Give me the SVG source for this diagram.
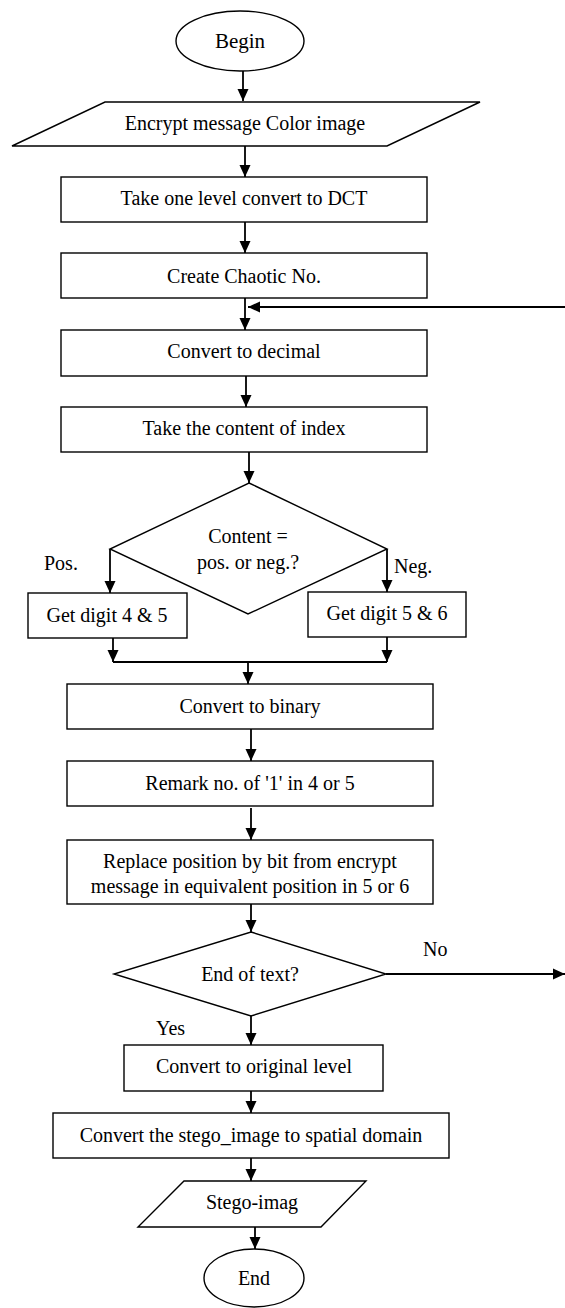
<svg xmlns="http://www.w3.org/2000/svg" width="565" height="1308" viewBox="0 0 565 1308">
<style>
.n{fill:#fff;stroke:#000;stroke-width:1.4}
.t{font-family:"Liberation Serif","Times New Roman",serif;font-size:20px;fill:#000;text-anchor:middle}
.l{font-family:"Liberation Serif","Times New Roman",serif;font-size:20px;fill:#000}
.c{fill:none;stroke:#000;stroke-width:1.8}
</style>
<defs>
<marker id="ah" markerUnits="userSpaceOnUse" markerWidth="12" markerHeight="12" viewBox="0 0 12 12" refX="12" refY="6" orient="auto">
<path d="M0,0.5 L12,6 L0,11.5 z" fill="#000"/>
</marker>
</defs>
<rect width="565" height="1308" fill="#fff"/>
<g id="connectors">
<line class="c" x1="243" y1="71" x2="243" y2="101" marker-end="url(#ah)"/>
<line class="c" x1="245" y1="146" x2="245" y2="177" marker-end="url(#ah)"/>
<line class="c" x1="245" y1="222" x2="245" y2="253" marker-end="url(#ah)"/>
<line class="c" x1="245" y1="298" x2="245" y2="330" marker-end="url(#ah)"/>
<line class="c" x1="565" y1="307" x2="248" y2="307" marker-end="url(#ah)"/>
<line class="c" x1="246" y1="376" x2="246" y2="407" marker-end="url(#ah)"/>
<line class="c" x1="249" y1="452" x2="249" y2="483" marker-end="url(#ah)"/>
<line class="c" x1="110" y1="549" x2="110" y2="593" marker-end="url(#ah)"/>
<line class="c" x1="387" y1="549" x2="387" y2="592" marker-end="url(#ah)"/>
<line class="c" x1="113" y1="638" x2="113" y2="662" marker-end="url(#ah)"/>
<line class="c" x1="387" y1="637" x2="387" y2="662" marker-end="url(#ah)"/>
<line class="c" x1="113" y1="662" x2="387" y2="662"/>
<line class="c" x1="248" y1="662" x2="248" y2="684" marker-end="url(#ah)"/>
<line class="c" x1="251" y1="729" x2="251" y2="761" marker-end="url(#ah)"/>
<line class="c" x1="251" y1="808" x2="251" y2="840" marker-end="url(#ah)"/>
<line class="c" x1="251" y1="904" x2="251" y2="932" marker-end="url(#ah)"/>
<line class="c" x1="386" y1="974" x2="565" y2="974" marker-end="url(#ah)"/>
<line class="c" x1="251" y1="1016" x2="251" y2="1045" marker-end="url(#ah)"/>
<line class="c" x1="251" y1="1091" x2="251" y2="1113" marker-end="url(#ah)"/>
<line class="c" x1="251" y1="1158" x2="251" y2="1181" marker-end="url(#ah)"/>
<line class="c" x1="255" y1="1227" x2="255" y2="1249" marker-end="url(#ah)"/>
<text class="l" x="44" y="570">Pos.</text>
<text class="l" x="394" y="573">Neg.</text>
<text class="l" x="423" y="956">No</text>
<text class="l" x="156" y="1035">Yes</text>
</g>
<g id="begin">
<ellipse class="n" cx="240" cy="41" rx="64" ry="30"/>
<text class="t" x="240" y="48" style="font-size:21px">Begin</text>
</g>
<g id="input">
<polygon class="n" points="105,102 480,102 387,146 12,146"/>
<text class="t" x="245" y="130">Encrypt message Color image</text>
</g>
<g id="dct">
<rect class="n" x="61" y="177" width="366" height="45"/>
<text class="t" x="244" y="205">Take one level convert to DCT</text>
</g>
<g id="chaotic">
<rect class="n" x="61" y="253" width="366" height="45"/>
<text class="t" x="244" y="283">Create Chaotic No.</text>
</g>
<g id="decimal">
<rect class="n" x="61" y="330" width="366" height="46"/>
<text class="t" x="244" y="358">Convert to decimal</text>
</g>
<g id="index">
<rect class="n" x="61" y="407" width="366" height="45"/>
<text class="t" x="244" y="435">Take the content of index</text>
</g>
<g id="decision1">
<polygon class="n" points="249,483 387,549 248,614 110,549"/>
<text class="t" x="248" y="543">Content =</text>
<text class="t" x="248" y="569">pos. or neg.?</text>
</g>
<g id="digit45">
<rect class="n" x="28" y="593" width="159" height="45"/>
<text class="t" x="107" y="622">Get digit 4 &amp; 5</text>
</g>
<g id="digit56">
<rect class="n" x="308" y="592" width="158" height="45"/>
<text class="t" x="387" y="620">Get digit 5 &amp; 6</text>
</g>
<g id="binary">
<rect class="n" x="67" y="684" width="366" height="45"/>
<text class="t" x="250" y="713">Convert to binary</text>
</g>
<g id="remark">
<rect class="n" x="67" y="761" width="366" height="45"/>
<text class="t" x="250" y="790">Remark no. of '1' in 4 or 5</text>
</g>
<g id="replace">
<rect class="n" x="67" y="840" width="366" height="64"/>
<text class="t" x="250" y="868">Replace position by bit from encrypt</text>
<text class="t" x="250" y="893">message in equivalent position in 5 or 6</text>
</g>
<g id="decision2">
<polygon class="n" points="251,932 386,974 251,1016 114,974"/>
<text class="t" x="250" y="981">End of text?</text>
</g>
<g id="original">
<rect class="n" x="124" y="1045" width="259" height="46"/>
<text class="t" x="254" y="1073">Convert to original level</text>
</g>
<g id="spatial">
<rect class="n" x="53" y="1113" width="396" height="45"/>
<text class="t" x="251" y="1142">Convert the stego_image to spatial domain</text>
</g>
<g id="output">
<polygon class="n" points="184,1181 366,1181 321,1227 138,1227"/>
<text class="t" x="252" y="1209">Stego-imag</text>
</g>
<g id="end">
<ellipse class="n" cx="254" cy="1278" rx="50" ry="29"/>
<text class="t" x="254" y="1285">End</text>
</g>
</svg>
